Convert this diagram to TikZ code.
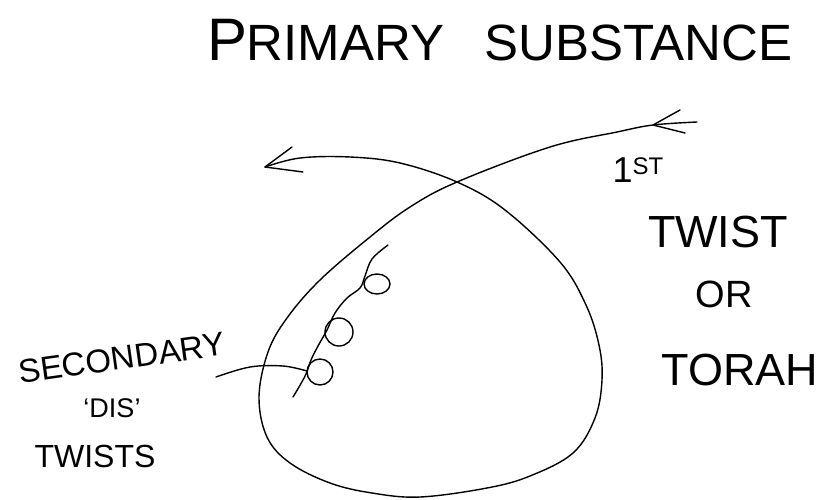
\documentclass[tikz,border=0pt]{standalone}
\usepackage{fontspec}
\setmainfont{Liberation Sans}
\begin{document}
\begin{tikzpicture}[x=1pt,y=-1pt,
  pen/.style={line width=1.4pt,line cap=round,line join=round},
  hand/.style={inner sep=0pt,anchor=center},
]
\useasboundingbox (0,0) rectangle (822,499);
\fill[white] (0,0) rectangle (822,499);
% main curve
\coordinate (start) at (697,122);
\coordinate (tipL) at (265,167);
\coordinate (tipR) at (653,125);
\draw[pen] plot[smooth,tension=0.6] coordinates {
  (697,122) (653,125) (617,132) (550,147) (457,182) (410,207) (370,237) (320,280) (287,318)
  (268,352) (259,397) (267,437) (290,463) (330,483) (372,493) (420,497) (487,488)
  (530,476) (573,453) (595,418) (602,380) (599,345) (586,305) (560,262) (505,210)
  (457,182) (400,163) (350,157) (300,158) (265,167)};
% arrow barbs
\draw[pen] (292,147) -- (tipL) -- (303,172);
\draw[pen] (680,110) -- (tipR) -- (685,133);
% secondary twists chain
\draw[pen] plot[smooth,tension=0.6] coordinates {
  (388,245) (372,259) (365,276) (360,288) (347,298) (335,313) (327,330) (318,346)
  (311,360) (306,374) (299,387) (293,397)};
\coordinate (t1) at (377,284);
\coordinate (t2) at (339,332);
\coordinate (t3) at (320,372);
\draw[pen] (t1) ellipse[x radius=13,y radius=10];
\draw[pen] (t2) circle[radius=14];
\draw[pen] (t3) circle[radius=13];
% leader
\coordinate (lead) at (216,377);
\draw[pen] plot[smooth,tension=0.6] coordinates {(216,377) (250,367) (283,366) (307,371)};
% texts
\node[hand,font=\fontsize{60}{60}\selectfont] (title) at (500,40) {P\kern-1pt{\fontsize{51}{51}\selectfont RIMARY\hspace{40pt}SUBSTANCE}};
\node[hand,font=\fontsize{36}{36}\selectfont] (first) at (638,170) {1\raisebox{8pt}{\fontsize{24}{24}\selectfont ST}};
\node[hand,font=\fontsize{45}{45}\selectfont] (twist) at (718,232) {TWIST};
\node[hand,font=\fontsize{38}{38}\selectfont] (or) at (724,294) {OR};
\node[hand,font=\fontsize{45}{45}\selectfont] (torah) at (740,370) {TORAH};
\node[hand,font=\fontsize{33}{33}\selectfont,rotate=8] (sec) at (122,358) {SECONDARY};
\node[hand,font=\fontsize{27}{27}\selectfont] (dis) at (112,408) {‘DIS’};
\node[hand,font=\fontsize{32}{32}\selectfont] (twists) at (95,456) {TWISTS};
\end{tikzpicture}
\end{document}
